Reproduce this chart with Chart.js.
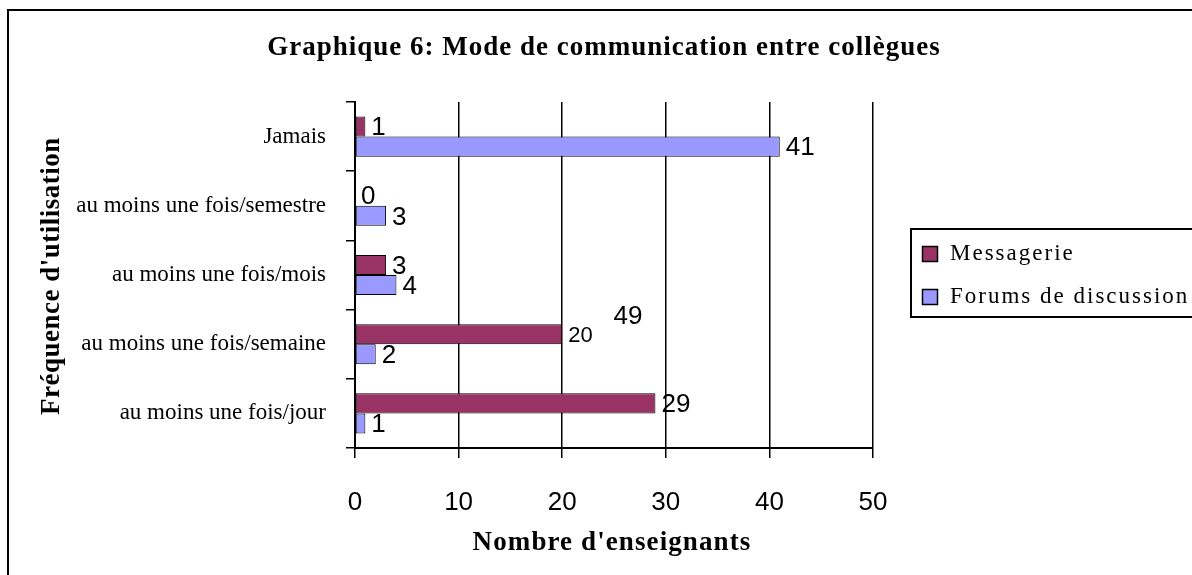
<!DOCTYPE html>
<html>
<head>
<meta charset="utf-8">
<script src="https://cdn.jsdelivr.net/npm/chart.js@4.4.1/dist/chart.umd.min.js"></script>
<style>
  html, body { margin: 0; padding: 0; background: #fff; }
  #wrap { width: 1192px; height: 575px; }
</style>
</head>
<body>
<div id="wrap"><canvas id="chart" width="1192" height="575"></canvas></div>
<script>
// Data
const categories = [
    'Jamais',
    'au moins une fois/semestre',
    'au moins une fois/mois',
    'au moins une fois/semaine',
    'au moins une fois/jour'
];
const messagerie = [1, 0, 3, 20, 29];
const forums = [41, 3, 4, 2, 1];
const xTicks = [0, 10, 20, 30, 40, 50];
// the original has a loose "49" floating near the semaine row
const strayText = '49';
const strayAt = [26.35, 2.61];

const serif = "'Liberation Serif', 'Times New Roman', serif";
const sans = "'Liberation Sans', Arial, sans-serif";

function spacedText(ctx, text, x, y, spacing) {
    ctx.letterSpacing = spacing + 'px';
    ctx.fillText(text, x, y);
    ctx.letterSpacing = '0px';
}

// Draws frame, titles, legend and value labels
const decorPlugin = {
    id: 'decor',
    beforeDraw(chart) {
        const ctx = chart.ctx;
        ctx.save();
        ctx.fillStyle = '#fff';
        ctx.fillRect(0, 0, chart.width, chart.height);
        ctx.strokeStyle = '#000';
        ctx.lineWidth = 2;
        ctx.strokeRect(8, 10, 1200, 600);
        ctx.restore();
    },
    afterDatasetsDraw(chart) {
        const ctx = chart.ctx;
        ctx.save();
        ctx.fillStyle = '#000';
        ctx.textAlign = 'left';
        ctx.textBaseline = 'middle';
        chart.data.datasets.forEach((ds, di) => {
            const meta = chart.getDatasetMeta(di);
            meta.data.forEach((bar, i) => {
                // the "20" label is a bit smaller in the original
                const size = (di === 0 && i === 3) ? 22 : 26;
                ctx.font = size + 'px ' + sans;
                ctx.fillText(String(ds.data[i]), bar.x + 6, bar.y + 1.5);
            });
        });
        const xs = chart.scales.x, ys = chart.scales.y;
        ctx.font = '26px ' + sans;
        ctx.textAlign = 'center';
        ctx.fillText(strayText, xs.getPixelForValue(strayAt[0]), ys.getPixelForValue(strayAt[1]));
        ctx.restore();
    },
    afterDraw(chart) {
        const ctx = chart.ctx;
        ctx.save();
        ctx.fillStyle = '#000';
        ctx.textAlign = 'center';
        ctx.textBaseline = 'middle';
        ctx.font = 'bold 27px ' + serif;
        spacedText(ctx, 'Graphique 6: Mode de communication entre collègues', 604, 48, 1);
        spacedText(ctx, "Nombre d'enseignants", 612, 543, 1.1);
        ctx.translate(52, 276);
        ctx.rotate(-Math.PI / 2);
        spacedText(ctx, "Fréquence d'utilisation", 0, 0, 0.5);
        ctx.restore();

        // legend
        ctx.save();
        ctx.strokeStyle = '#000';
        ctx.lineWidth = 2;
        ctx.strokeRect(911, 229, 290, 88);
        ctx.font = '23px ' + serif;
        ctx.textAlign = 'left';
        ctx.textBaseline = 'middle';
        chart.data.datasets.forEach((ds, di) => {
            const cy = 254 + di * 43;
            ctx.fillStyle = ds.backgroundColor;
            ctx.fillRect(922, cy - 8, 16, 16);
            ctx.lineWidth = 1.5;
            ctx.strokeRect(922.5, cy - 7.5, 15, 15);
            ctx.fillStyle = '#000';
            spacedText(ctx, ds.label, 950, cy, 2);
        });
        ctx.restore();
    }
};

new Chart(document.getElementById('chart'), {
    type: 'bar',
    data: {
        labels: categories,
        datasets: [
            {
                label: 'Messagerie',
                data: messagerie,
                backgroundColor: '#993366',
                borderColor: '#000',
                borderWidth: 1,
                borderSkipped: false,
                categoryPercentage: 0.58,
                barPercentage: 1
            },
            {
                label: 'Forums de discussion',
                data: forums,
                backgroundColor: '#9999ff',
                borderColor: '#000',
                borderWidth: 1,
                borderSkipped: false,
                categoryPercentage: 0.58,
                barPercentage: 1
            }
        ]
    },
    options: {
        indexAxis: 'y',
        responsive: false,
        animation: false,
        layout: { padding: { top: 102, right: 319, left: 0, bottom: 0 } },
        plugins: {
            legend: { display: false },
            title: { display: false },
            tooltip: { enabled: false }
        },
        scales: {
            x: {
                min: 0,
                max: 50,
                afterBuildTicks: scale => { scale.ticks = xTicks.map(v => ({ value: v })); },
                afterFit: scale => { scale.height = 127; },
                grid: { color: '#000', lineWidth: 1.5, tickLength: 10 },
                border: { color: '#000', width: 2 },
                ticks: { color: '#000', font: { family: sans, size: 26 }, padding: 29 }
            },
            y: {
                afterFit: scale => { scale.width = 355; },
                grid: { drawOnChartArea: false, color: '#000', lineWidth: 1.5, tickLength: 9 },
                border: { color: '#000', width: 2 },
                ticks: { color: '#000', font: { family: serif, size: 23 }, padding: 20 }
            }
        }
    },
    plugins: [decorPlugin]
});
</script>
</body>
</html>
